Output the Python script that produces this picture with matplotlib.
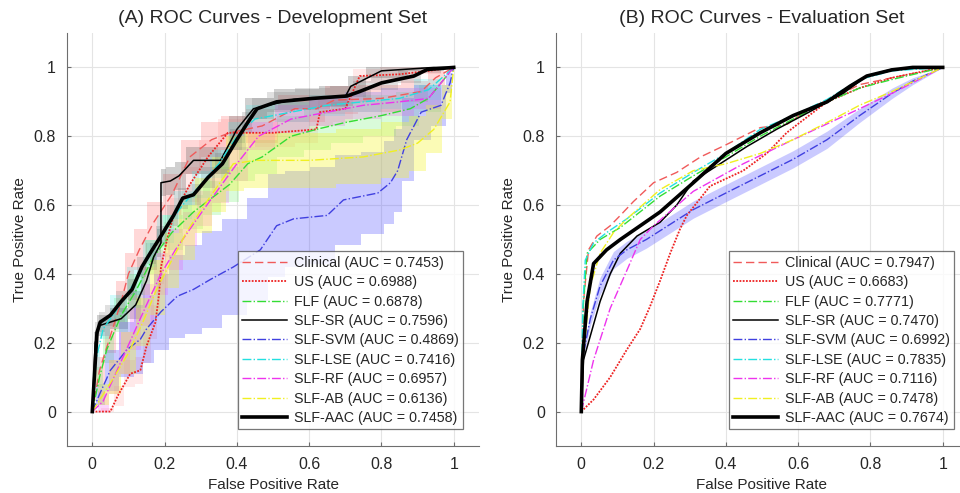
import matplotlib
matplotlib.use("Agg")
import matplotlib.pyplot as plt
import numpy as np

plt.rcParams["font.family"] = ["Liberation Sans", "DejaVu Sans"]

NAMES = ["Clinical", "US", "FLF", "SLF-SR", "SLF-SVM", "SLF-LSE", "SLF-RF", "SLF-AB", "SLF-AAC"]
AUC_DEV = [0.7453, 0.6988, 0.6878, 0.7596, 0.4869, 0.7416, 0.6957, 0.6136, 0.7458]
AUC_EVAL = [0.7947, 0.6683, 0.7771, 0.7470, 0.6992, 0.7835, 0.7116, 0.7478, 0.7674]

# ---- development set (mean curve + half width of the shaded band)
dev_clinical_x = [0, 0.02, 0.05, 0.08, 0.10, 0.13, 0.17, 0.22, 0.27, 0.33, 0.38, 0.47, 0.56, 0.62, 0.67, 0.80, 0.91, 0.95, 1.0]
dev_clinical_y = [0, 0.12, 0.22, 0.32, 0.40, 0.47, 0.55, 0.63, 0.74, 0.79, 0.81, 0.83, 0.88, 0.88, 0.905, 0.91, 0.93, 0.97, 1.0]
dev_clinical_w = [0, 0.04, 0.05, 0.06, 0.06, 0.06, 0.06, 0.06, 0.05, 0.05, 0.05, 0.05, 0.04, 0.04, 0.04, 0.04, 0.03, 0.02, 0]

dev_us_x = [0, 0.05, 0.07, 0.105, 0.133, 0.15, 0.175, 0.185, 0.19, 0.207, 0.225, 0.27, 0.32, 0.375, 0.50, 0.62, 0.63, 0.70, 0.74, 0.85, 0.93, 1.0]
dev_us_y = [0, 0, 0.045, 0.11, 0.12, 0.19, 0.26, 0.345, 0.42, 0.50, 0.57, 0.66, 0.74, 0.81, 0.81, 0.82, 0.87, 0.88, 0.975, 0.98, 0.99, 1.0]
dev_us_w = [0, 0.01, 0.03, 0.04, 0.04, 0.05, 0.05, 0.05, 0.05, 0.05, 0.05, 0.05, 0.05, 0.04, 0.04, 0.04, 0.04, 0.04, 0.02, 0.02, 0.01, 0]

dev_flf_x = [0, 0.02, 0.04, 0.08, 0.12, 0.17, 0.22, 0.28, 0.33, 0.38, 0.43, 0.47, 0.55, 0.62, 0.70, 0.80, 0.88, 0.93, 1.0]
dev_flf_y = [0, 0.10, 0.18, 0.28, 0.35, 0.45, 0.52, 0.58, 0.62, 0.66, 0.72, 0.74, 0.80, 0.82, 0.84, 0.86, 0.88, 0.91, 1.0]
dev_flf_w = [0, 0.03, 0.04, 0.05, 0.05, 0.05, 0.05, 0.05, 0.05, 0.05, 0.05, 0.05, 0.06, 0.06, 0.06, 0.06, 0.05, 0.04, 0]

dev_sr_x = [0, 0.008, 0.02, 0.08, 0.12, 0.15, 0.17, 0.19, 0.19, 0.216, 0.24, 0.28, 0.355, 0.40, 0.446, 0.557, 0.70, 0.715, 0.80, 0.945, 1.0]
dev_sr_y = [0, 0.20, 0.25, 0.27, 0.31, 0.38, 0.45, 0.49, 0.665, 0.67, 0.685, 0.73, 0.73, 0.82, 0.88, 0.907, 0.915, 0.945, 0.99, 1.0, 1.0]
dev_sr_w = [0, 0.03, 0.03, 0.03, 0.04, 0.04, 0.04, 0.04, 0.04, 0.04, 0.04, 0.04, 0.04, 0.04, 0.03, 0.03, 0.03, 0.03, 0.02, 0.01, 0]

dev_svm_x = [0, 0.02, 0.05, 0.096, 0.133, 0.15, 0.19, 0.235, 0.28, 0.327, 0.39, 0.465, 0.51, 0.557, 0.65, 0.695, 0.79, 0.825, 0.845, 0.87, 0.91, 0.965, 0.99, 1.0]
dev_svm_y = [0, 0.05, 0.12, 0.18, 0.21, 0.24, 0.29, 0.335, 0.355, 0.384, 0.42, 0.47, 0.54, 0.56, 0.57, 0.615, 0.635, 0.665, 0.70, 0.79, 0.87, 0.89, 0.955, 1.0]
dev_svm_w = [0, 0.03, 0.06, 0.08, 0.10, 0.10, 0.11, 0.12, 0.13, 0.14, 0.14, 0.15, 0.15, 0.14, 0.14, 0.13, 0.12, 0.12, 0.12, 0.12, 0.08, 0.06, 0.03, 0]

dev_lse_x = [0, 0.01, 0.03, 0.07, 0.12, 0.16, 0.20, 0.25, 0.30, 0.35, 0.40, 0.45, 0.55, 0.65, 0.75, 0.85, 0.93, 1.0]
dev_lse_y = [0, 0.15, 0.24, 0.30, 0.38, 0.46, 0.53, 0.60, 0.66, 0.72, 0.80, 0.85, 0.87, 0.89, 0.90, 0.91, 0.935, 1.0]
dev_lse_w = [0, 0.03, 0.03, 0.04, 0.04, 0.04, 0.04, 0.04, 0.04, 0.04, 0.04, 0.04, 0.03, 0.03, 0.03, 0.03, 0.03, 0]

dev_rf_x = [0, 0.03, 0.06, 0.09, 0.12, 0.15, 0.19, 0.23, 0.27, 0.31, 0.355, 0.40, 0.46, 0.55, 0.65, 0.75, 0.85, 0.93, 1.0]
dev_rf_y = [0, 0.03, 0.10, 0.17, 0.24, 0.31, 0.40, 0.47, 0.53, 0.59, 0.655, 0.72, 0.80, 0.85, 0.87, 0.89, 0.90, 0.91, 1.0]
dev_rf_w = [0, 0.03, 0.05, 0.06, 0.06, 0.06, 0.06, 0.06, 0.05, 0.05, 0.05, 0.05, 0.04, 0.04, 0.04, 0.04, 0.04, 0.03, 0]

dev_ab_x = [0, 0.03, 0.06, 0.10, 0.14, 0.18, 0.22, 0.26, 0.31, 0.35, 0.39, 0.45, 0.60, 0.75, 0.85, 0.90, 0.945, 0.99, 1.0]
dev_ab_y = [0, 0.05, 0.10, 0.17, 0.26, 0.36, 0.44, 0.52, 0.60, 0.66, 0.72, 0.73, 0.73, 0.74, 0.76, 0.78, 0.82, 0.90, 1.0]
dev_ab_w = [0, 0.03, 0.05, 0.06, 0.07, 0.08, 0.08, 0.08, 0.08, 0.08, 0.08, 0.08, 0.08, 0.08, 0.08, 0.08, 0.07, 0.05, 0]

dev_aac_x = [0, 0.013, 0.022, 0.05, 0.08, 0.11, 0.137, 0.16, 0.19, 0.225, 0.25, 0.28, 0.32, 0.36, 0.40, 0.43, 0.456, 0.51, 0.61, 0.705, 0.74, 0.80, 0.89, 0.927, 1.0]
dev_aac_y = [0, 0.23, 0.26, 0.28, 0.32, 0.355, 0.42, 0.46, 0.51, 0.57, 0.62, 0.63, 0.68, 0.72, 0.79, 0.84, 0.88, 0.90, 0.91, 0.917, 0.93, 0.955, 0.975, 0.994, 1.0]
dev_aac_w = [0, 0.03, 0.03, 0.03, 0.03, 0.03, 0.03, 0.03, 0.03, 0.03, 0.03, 0.03, 0.03, 0.03, 0.03, 0.03, 0.03, 0.03, 0.03, 0.03, 0.03, 0.02, 0.02, 0.01, 0]

# ---- evaluation set
eval_clinical_x = [0, 0.006, 0.02, 0.043, 0.08, 0.108, 0.144, 0.2, 0.264, 0.33, 0.40, 0.495, 0.57, 0.63, 0.706, 0.77, 0.86, 1.0]
eval_clinical_y = [0, 0.32, 0.47, 0.51, 0.54, 0.57, 0.61, 0.665, 0.695, 0.74, 0.775, 0.825, 0.835, 0.88, 0.917, 0.95, 0.97, 1.0]

eval_us_x = [0, 0.034, 0.08, 0.126, 0.163, 0.19, 0.218, 0.246, 0.273, 0.292, 0.356, 0.448, 0.513, 0.568, 0.605, 0.68, 0.77, 0.86, 1.0]
eval_us_y = [0, 0.035, 0.10, 0.18, 0.24, 0.305, 0.38, 0.46, 0.53, 0.57, 0.655, 0.70, 0.75, 0.81, 0.84, 0.90, 0.94, 0.97, 1.0]

eval_flf_x = [0, 0.005, 0.016, 0.052, 0.108, 0.126, 0.218, 0.31, 0.40, 0.495, 0.586, 0.68, 0.77, 0.86, 1.0]
eval_flf_y = [0, 0.30, 0.46, 0.50, 0.535, 0.55, 0.626, 0.685, 0.74, 0.80, 0.85, 0.90, 0.94, 0.965, 1.0]

eval_sr_x = [0, 0.006, 0.025, 0.052, 0.08, 0.108, 0.154, 0.218, 0.264, 0.31, 0.384, 0.458, 0.54, 0.63, 0.725, 0.79, 0.86, 1.0]
eval_sr_y = [0, 0.15, 0.22, 0.32, 0.40, 0.46, 0.51, 0.55, 0.60, 0.67, 0.72, 0.77, 0.82, 0.87, 0.925, 0.975, 0.995, 1.0]

eval_svm_x = [0, 0.006, 0.025, 0.052, 0.089, 0.126, 0.18, 0.31, 0.40, 0.495, 0.586, 0.68, 0.77, 0.86, 0.917, 1.0]
eval_svm_y = [0, 0.17, 0.27, 0.365, 0.44, 0.47, 0.50, 0.587, 0.635, 0.685, 0.733, 0.79, 0.86, 0.925, 0.96, 1.0]
eval_svm_w = [0, 0.01, 0.02, 0.025, 0.025, 0.025, 0.025, 0.025, 0.025, 0.025, 0.025, 0.025, 0.02, 0.015, 0.01, 0]

eval_lse_x = [0, 0.004, 0.011, 0.034, 0.07, 0.126, 0.218, 0.31, 0.40, 0.495, 0.586, 0.68, 0.77, 0.86, 1.0]
eval_lse_y = [0, 0.30, 0.44, 0.49, 0.52, 0.56, 0.635, 0.695, 0.75, 0.82, 0.86, 0.907, 0.965, 0.99, 1.0]

eval_rf_x = [0, 0.034, 0.08, 0.126, 0.163, 0.2, 0.31, 0.448, 0.586, 0.77, 0.86, 1.0]
eval_rf_y = [0, 0.15, 0.30, 0.41, 0.50, 0.54, 0.64, 0.72, 0.79, 0.88, 0.925, 1.0]

eval_ab_x = [0, 0.006, 0.025, 0.052, 0.089, 0.126, 0.218, 0.31, 0.40, 0.495, 0.586, 0.68, 0.77, 0.86, 1.0]
eval_ab_y = [0, 0.17, 0.365, 0.46, 0.52, 0.56, 0.645, 0.70, 0.72, 0.75, 0.79, 0.84, 0.89, 0.93, 1.0]

eval_aac_x = [0, 0.003, 0.016, 0.034, 0.07, 0.108, 0.17, 0.218, 0.31, 0.40, 0.495, 0.586, 0.68, 0.743, 0.79, 0.86, 0.917, 1.0]
eval_aac_y = [0, 0.15, 0.32, 0.43, 0.47, 0.50, 0.545, 0.58, 0.665, 0.75, 0.81, 0.86, 0.90, 0.945, 0.975, 0.993, 1.0, 1.0]

dev = [
    (dev_clinical_x, dev_clinical_y, dev_clinical_w),
    (dev_us_x, dev_us_y, dev_us_w),
    (dev_flf_x, dev_flf_y, dev_flf_w),
    (dev_sr_x, dev_sr_y, dev_sr_w),
    (dev_svm_x, dev_svm_y, dev_svm_w),
    (dev_lse_x, dev_lse_y, dev_lse_w),
    (dev_rf_x, dev_rf_y, dev_rf_w),
    (dev_ab_x, dev_ab_y, dev_ab_w),
    (dev_aac_x, dev_aac_y, dev_aac_w),
]
evl = [
    (eval_clinical_x, eval_clinical_y, None),
    (eval_us_x, eval_us_y, None),
    (eval_flf_x, eval_flf_y, None),
    (eval_sr_x, eval_sr_y, None),
    (eval_svm_x, eval_svm_y, eval_svm_w),
    (eval_lse_x, eval_lse_y, None),
    (eval_rf_x, eval_rf_y, None),
    (eval_ab_x, eval_ab_y, None),
    (eval_aac_x, eval_aac_y, None),
]

# line style per method
styles = [
    dict(color="#f05a5a", ls=(0, (6, 3)), lw=1.0),
    dict(color="#ee2222", ls=(0, (1, 0.8)), lw=1.3),
    dict(color="#33dd33", ls="-.", lw=1.0),
    dict(color="black", ls="-", lw=1.1),
    dict(color="#4040e0", ls="-.", lw=1.0),
    dict(color="#22e0e0", ls="-.", lw=1.0),
    dict(color="#ee33ee", ls="-.", lw=1.0),
    dict(color="#f0f020", ls="-.", lw=1.0),
    dict(color="black", ls="-", lw=2.6),
]
band_colors = ["#ff5050", "#ff5050", "#55ee55", "#666666", "#5050ff",
               "#33eeee", "#ee44ee", "#f5f530", "#666666"]
band_alpha = [0.22, 0.12, 0.22, 0.3, 0.3, 0.22, 0.22, 0.35, 0.2]

fig = plt.figure(figsize=(9.6, 4.93), dpi=100)
ax1 = fig.add_axes([67 / 960, 47 / 493, 412 / 960, 413 / 493])
ax2 = fig.add_axes([556 / 960, 47 / 493, 412 / 960, 413 / 493])


def draw(ax, data, aucs, stepped, title, legend_x):
    for i, (x, y, w) in enumerate(data):
        x = np.array(x)
        y = np.array(y)
        if w is not None:
            w = np.array(w)
            lo = np.clip(y - w, 0, 1)
            hi = np.clip(y + w, 0, 1)
            ax.fill_between(x, lo, hi, step="mid" if stepped else None,
                            color=band_colors[i], alpha=band_alpha[i], lw=0)
    for i, (x, y, w) in enumerate(data):
        st = styles[i]
        ax.plot(x, y, color=st["color"], linestyle=st["ls"], lw=st["lw"],
                label=f"{NAMES[i]} (AUC = {aucs[i]:.4f})", zorder=3 + (i == 8))

    ax.set_xlim(-0.07, 1.07)
    ax.set_ylim(-0.1, 1.1)
    ax.set_xticks([0, 0.2, 0.4, 0.6, 0.8, 1])
    ax.set_xticklabels(["0", "0.2", "0.4", "0.6", "0.8", "1"])
    ax.set_yticks([0, 0.2, 0.4, 0.6, 0.8, 1])
    ax.set_yticklabels(["0", "0.2", "0.4", "0.6", "0.8", "1"])
    ax.grid(True, color="#e4e4e4", lw=0.8)
    ax.set_axisbelow(True)
    for s in ["top", "right"]:
        ax.spines[s].set_visible(False)
    for s in ["left", "bottom"]:
        ax.spines[s].set_color("#6e6e6e")
    ax.tick_params(direction="in", length=3, colors="#6e6e6e",
                   labelcolor="#262626", labelsize=11.5, pad=8)
    ax.set_xlabel("False Positive Rate", fontsize=11, color="#262626", labelpad=4)
    ax.set_ylabel("True Positive Rate", fontsize=11, color="#262626", labelpad=5)
    ax.set_title(title, fontsize=14, color="#262626", pad=7)
    leg = ax.legend(loc="lower right", bbox_to_anchor=(legend_x, 0.04),
                    fontsize=10.3, frameon=True, fancybox=False,
                    handlelength=3.1, labelspacing=0.38, borderpad=0.3,
                    handletextpad=0.5, borderaxespad=0)
    leg.get_frame().set_edgecolor("#555555")
    leg.get_frame().set_linewidth(0.9)
    for t in leg.get_texts():
        t.set_color("#262626")


draw(ax1, dev, AUC_DEV, True, "(A) ROC Curves - Development Set", 0.961)
draw(ax2, evl, AUC_EVAL, False, "(B) ROC Curves - Evaluation Set", 0.966)

fig.savefig("out.png", dpi=100)
